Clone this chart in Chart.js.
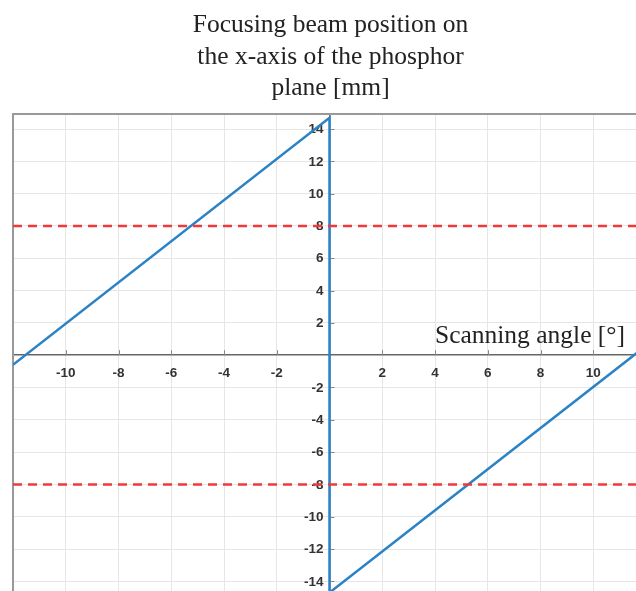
<!DOCTYPE html>
<html>
<head>
<meta charset="utf-8">
<script src="https://cdn.jsdelivr.net/npm/chart.js@4.4.1/dist/chart.umd.min.js"></script>
<style>
  html, body { margin: 0; padding: 0; background: #fff; }
  #wrap { width: 636px; height: 591px; }
</style>
</head>
<body>
<div id="wrap"><canvas id="c" width="636" height="591"></canvas></div>
<script>
// beam x-position on the phosphor plane vs scanning angle
const titleLines = ['Focusing beam position on', 'the x-axis of the phosphor', 'plane [mm]'];
const xTitle = 'Scanning angle [°]';

// sawtooth sweep: angle [deg] -> position [mm]
const sweepAngle = [-12, 0, 0, 11.7];
const sweepPos = [-0.6, 14.7, -14.7, 0.2];

// plate limits (dashed red)
const limitAngle = [-12, 11.62];
const limitUpper = [8, 8];
const limitLower = [-8, -8];

const xRange = [-12, 11.62];
const yRange = [-14.6, 14.93];

const toPoints = (xs, ys) => xs.map((v, i) => ({ x: v, y: ys[i] }));

const tickFont = { family: 'Liberation Sans', size: 13.5, weight: 'bold' };

const decorations = {
    id: 'decorations',
    beforeDatasetsDraw(chart) {
        const { ctx, chartArea: a, scales: { x, y } } = chart;
        const x0 = x.getPixelForValue(0), y0 = y.getPixelForValue(0);
        ctx.save();
        // small tick marks on the crossing axes
        ctx.strokeStyle = '#888';
        ctx.lineWidth = 1;
        ctx.beginPath();
        x.ticks.forEach(t => {
            if (t.label == null) return;
            const px = Math.round(x.getPixelForValue(t.value)) + 0.5;
            ctx.moveTo(px, y0); ctx.lineTo(px, y0 - 5);
        });
        y.ticks.forEach(t => {
            if (t.label == null) return;
            const py = Math.round(y.getPixelForValue(t.value)) + 0.5;
            ctx.moveTo(x0, py); ctx.lineTo(x0 + 5, py);
        });
        ctx.stroke();
        // y labels sit left of the crossing axis, with a small gap
        ctx.fillStyle = '#333';
        ctx.font = 'bold 13.5px "Liberation Sans"';
        ctx.textAlign = 'right';
        ctx.textBaseline = 'middle';
        y.ticks.forEach(t => {
            if (t.label == null) return;
            ctx.fillText(t.label, x0 - 6, y.getPixelForValue(t.value) + 0.5);
        });
        // frame, only top and left are visible
        ctx.strokeStyle = '#999';
        ctx.lineWidth = 2;
        ctx.beginPath();
        ctx.moveTo(a.left, a.bottom); ctx.lineTo(a.left, a.top); ctx.lineTo(a.right, a.top);
        ctx.stroke();
        // titles
        ctx.fillStyle = '#222';
        ctx.font = '25.5px "Liberation Serif"';
        ctx.textBaseline = 'alphabetic';
        ctx.textAlign = 'right';
        ctx.fillText(xTitle, 625, y0 - 12);
        ctx.textAlign = 'center';
        titleLines.forEach((l, i) => ctx.fillText(l, x0 + 1, 32 + i * 31.5));
        ctx.restore();
    }
};

const noPad = s => { s.paddingTop = 0; s.paddingBottom = 0; s.paddingLeft = 0; s.paddingRight = 0; };

new Chart(document.getElementById('c'), {
    type: 'scatter',
    data: {
        datasets: [
            { data: toPoints(limitAngle, limitUpper), showLine: true, borderColor: '#f03a3a', borderWidth: 2.5, borderDash: [9, 6], pointRadius: 0 },
            { data: toPoints(limitAngle, limitLower), showLine: true, borderColor: '#f03a3a', borderWidth: 2.5, borderDash: [9, 6], pointRadius: 0 },
            { data: toPoints(sweepAngle, sweepPos), showLine: true, borderColor: '#2b83c6', borderWidth: 2.5, pointRadius: 0 }
        ]
    },
    options: {
        responsive: false,
        animation: false,
        layout: { padding: { top: 114, left: 13, right: 0, bottom: 0 } },
        plugins: { legend: { display: false }, tooltip: { enabled: false }, title: { display: false } },
        scales: {
            x: {
                type: 'linear', position: { y: 0 }, min: xRange[0], max: xRange[1],
                grid: { color: '#e6e6e6', lineWidth: 1, drawTicks: false },
                border: { color: '#666', width: 1.5 },
                ticks: {
                    stepSize: 2, includeBounds: false, autoSkip: false, maxRotation: 0, padding: 10,
                    color: '#333', font: tickFont,
                    callback: v => (v === 0 || v <= -12) ? null : String(v)
                },
                afterFit: noPad
            },
            y: {
                type: 'linear', position: { x: 0 }, min: yRange[0], max: yRange[1],
                grid: { color: '#e6e6e6', lineWidth: 1, drawTicks: false },
                border: { color: '#666', width: 1.5 },
                ticks: {
                    stepSize: 2, includeBounds: false, autoSkip: false, display: false,
                    callback: v => v === 0 ? null : String(v)
                },
                afterFit: noPad
            }
        }
    },
    plugins: [decorations]
});
</script>
</body>
</html>
